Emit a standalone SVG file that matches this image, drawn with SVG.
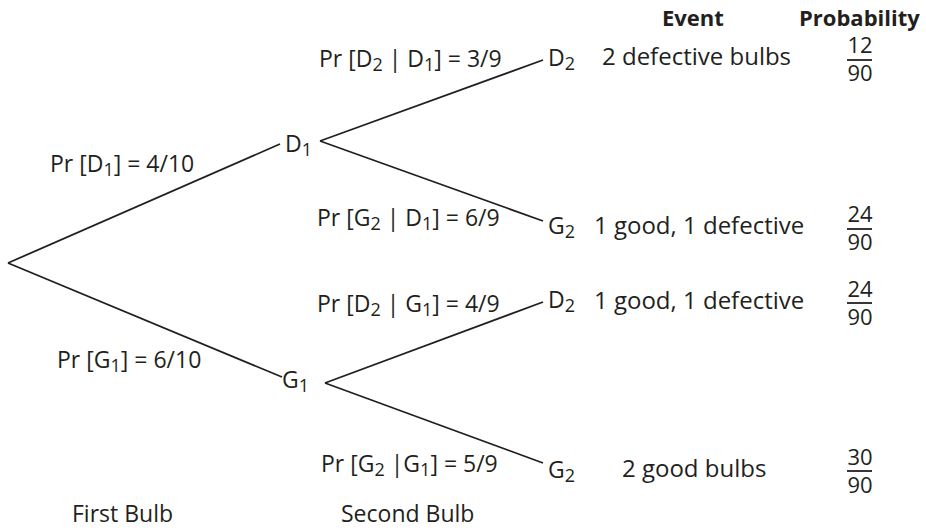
<svg xmlns="http://www.w3.org/2000/svg" width="926" height="530" viewBox="0 0 926 530">
<style>
text{font-family:"Open Sans","Noto Sans",sans-serif;font-size:23px;fill:#231f20}
.b{font-weight:bold;font-size:22px}
.e{font-size:24px}
.s{font-size:18px}
.f{font-size:22px;text-anchor:middle}
line{stroke:#231f20;stroke-width:1.8;fill:none}
</style>
<g id="connectors">
<line x1="8" y1="263" x2="280" y2="144"/>
<line x1="8" y1="263" x2="282" y2="377"/>
<line x1="320" y1="141" x2="543" y2="60"/>
<line x1="320" y1="141" x2="543" y2="221"/>
<line x1="325" y1="383" x2="543" y2="302"/>
<line x1="325" y1="383" x2="543" y2="463"/>
<line x1="847" y1="60" x2="872" y2="60"/>
<line x1="847" y1="229" x2="872" y2="229"/>
<line x1="847" y1="303" x2="872" y2="303"/>
<line x1="847" y1="471" x2="872" y2="471"/>
</g>
<g id="header">
<text class="b" x="662" y="26">Event</text>
<text class="b" x="799" y="26">Probability</text>
</g>
<g id="node-D1">
<text x="285" y="152">D<tspan class="s" dy="4">1</tspan></text>
</g>
<g id="node-G1">
<text x="282" y="388">G<tspan class="s" dy="4">1</tspan></text>
</g>
<g id="node-D2a">
<text x="548" y="66">D<tspan class="s" dy="4">2</tspan></text>
<text class="e" x="602" y="65">2 defective bulbs</text>
<text class="f" x="860" y="53">12</text>
<text class="f" x="860" y="81">90</text>
</g>
<g id="node-G2a">
<text x="548" y="234">G<tspan class="s" dy="4">2</tspan></text>
<text class="e" x="594" y="234">1 good, 1 defective</text>
<text class="f" x="860" y="222">24</text>
<text class="f" x="860" y="250">90</text>
</g>
<g id="node-D2b">
<text x="548" y="308">D<tspan class="s" dy="4">2</tspan></text>
<text class="e" x="594" y="309">1 good, 1 defective</text>
<text class="f" x="860" y="297">24</text>
<text class="f" x="860" y="325">90</text>
</g>
<g id="node-G2b">
<text x="548" y="478">G<tspan class="s" dy="4">2</tspan></text>
<text class="e" x="622" y="477">2 good bulbs</text>
<text class="f" x="860" y="465">30</text>
<text class="f" x="860" y="493">90</text>
</g>
<g id="labels">
<text x="50" y="172">Pr [D<tspan class="s" dy="4">1</tspan><tspan dy="-4">] = 4/10</tspan></text>
<text x="57" y="368">Pr [G<tspan class="s" dy="4">1</tspan><tspan dy="-4">] = 6/10</tspan></text>
<text x="319" y="67">Pr [D<tspan class="s" dy="4">2</tspan><tspan dy="-4"> | D</tspan><tspan class="s" dy="4">1</tspan><tspan dy="-4">] = 3/9</tspan></text>
<text x="317" y="226">Pr [G<tspan class="s" dy="4">2</tspan><tspan dy="-4"> | D</tspan><tspan class="s" dy="4">1</tspan><tspan dy="-4">] = 6/9</tspan></text>
<text x="317" y="312">Pr [D<tspan class="s" dy="4">2</tspan><tspan dy="-4"> | G</tspan><tspan class="s" dy="4">1</tspan><tspan dy="-4">] = 4/9</tspan></text>
<text x="321" y="472">Pr [G<tspan class="s" dy="4">2</tspan><tspan dy="-4"> |G</tspan><tspan class="s" dy="4">1</tspan><tspan dy="-4">] = 5/9</tspan></text>
<text x="72" y="522">First Bulb</text>
<text x="341" y="522">Second Bulb</text>
</g>
</svg>
